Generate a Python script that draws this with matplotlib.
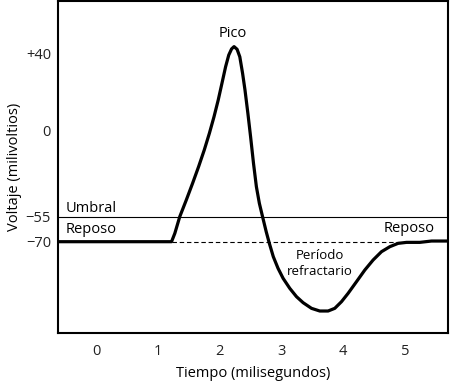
import numpy as np
import matplotlib
matplotlib.use('Agg')
import matplotlib.pyplot as plt

plt.rcParams['font.family'] = ['Open Sans', 'DejaVu Sans']

# membrane potential trace (ms, mV)
tiempo = [-0.62, 1.22, 1.273, 1.353, 1.459, 1.561, 1.658, 1.750, 1.833, 1.908,
          1.976, 2.037, 2.096, 2.147, 2.193, 2.233, 2.282, 2.326, 2.371, 2.410,
          2.457, 2.501, 2.548, 2.595, 2.643, 2.695, 2.754, 2.805, 2.869, 2.946,
          3.028, 3.136, 3.245, 3.352, 3.488, 3.622, 3.757, 3.865, 3.974, 4.081,
          4.217, 4.352, 4.486, 4.622, 4.757, 4.891, 5.028, 5.243, 5.433, 5.70]
voltaje = [-70, -70, -65, -55, -44.4, -33.8, -23.3, -12.7, -2.1, 6.9,
           15.6, 24.4, 33.0, 39.1, 42.3, 43.5, 42.1, 38.2, 29.6, 20.9,
           8.7, -4.3, -21.1, -36.0, -46.5, -55, -64, -71, -79, -86,
           -92, -98, -103, -106.6, -110, -111.6, -111.6, -110, -106, -101,
           -94, -87, -81, -76, -73, -71, -70.4, -70.4, -69.6, -69.6]

umbral = -55
reposo = -70
inicio_pot, fin_pot = 1.22, 4.92

x_ticks = [0, 1, 2, 3, 4, 5]
y_ticks = [40, 0, -55, -70]
y_labels = ['+40', '0', '\u221255', '\u221270']

# the drawing is schematic: spacing between labelled levels is not uniform
mv_anchor = [-150, -70, -55, 0, 40, 100]
pos_anchor = [-375.0, -241.7, -216.7, -130.0, -53.3, 61.7]


def fwd(v):
    return np.interp(v, mv_anchor, pos_anchor)


def inv(p):
    return np.interp(p, pos_anchor, mv_anchor)


fig = plt.figure(figsize=(4.5, 3.84), dpi=100)
ax = fig.add_axes([58 / 450, 51 / 384, 390 / 450, 332 / 384])
ax.set_yscale('function', functions=(fwd, inv))

ax.axhline(umbral, color='black', lw=0.8)
ax.plot([inicio_pot, fin_pot], [reposo, reposo], color='black', lw=0.8,
        dashes=(4, 2.5))
ax.plot(tiempo, voltaje, color='black', lw=2.3, solid_joinstyle='round',
        solid_capstyle='round')

ax.set_xlim(-0.62, 5.70)
ax.set_ylim(-124.8, 67.3)
ax.set_xticks(x_ticks)
ax.set_yticks(y_ticks)
ax.set_yticklabels(y_labels)
ax.yaxis.set_minor_locator(matplotlib.ticker.NullLocator())
ax.tick_params(length=0, labelsize=10.5, colors='#222222')
ax.tick_params(axis='x', pad=8)
ax.tick_params(axis='y', pad=5)
for s in ax.spines.values():
    s.set_linewidth(1.5)

ax.set_xlabel('Tiempo (milisegundos)', fontsize=10.5, labelpad=5)
ax.set_ylabel('Voltaje (milivoltios)', fontsize=10.5, labelpad=3)

ax.text(-0.494, -50.1, 'Umbral', fontsize=10.5, va='center', ha='left')
ax.text(-0.494, -62.4, 'Reposo', fontsize=10.5, va='center', ha='left')
ax.text(2.21, 50.5, 'Pico', fontsize=10.5, ha='center', va='center')
ax.text(5.07, -62.2, 'Reposo', fontsize=10.5, ha='center', va='center')
ax.text(3.63, -83, 'Período\nrefractario', fontsize=9.5, ha='center',
        va='center', linespacing=1.3)

fig.savefig('out.png', dpi=100)
